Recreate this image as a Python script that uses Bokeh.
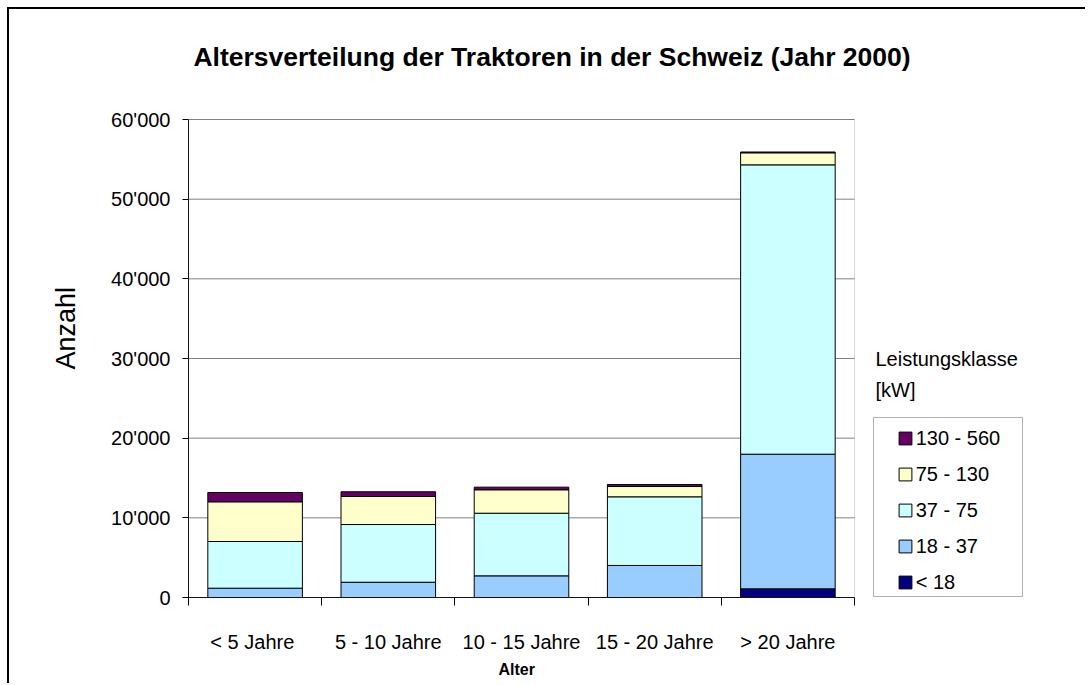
import math
from bokeh.plotting import figure
from bokeh.models import (ColumnDataSource, FixedTicker, Label, Legend, LegendItem,
                          BoxAnnotation, Range1d, Title)
from bokeh.embed import file_html
from bokeh.resources import INLINE

# ---- data ----
categories = ["<  5 Jahre", "5 - 10 Jahre", "10 - 15 Jahre", "15 - 20 Jahre", "> 20 Jahre"]
classes = ["< 18", "18 - 37", "37 - 75", "75 - 130", "130 - 560"]
kw_lt18 = [0, 0, 0, 0, 1090]
kw18_37 = [1170, 1920, 2720, 4020, 16900]
kw37_75 = [5860, 7240, 7860, 8620, 36320]
kw75_130 = [4980, 3520, 2940, 1290, 1510]
kw130_560 = [1170, 590, 330, 250, 100]
colors = ["#000080", "#99CCFF", "#CCFFFF", "#FFFFCC", "#660066"]
y_ticks = [0, 10000, 20000, 30000, 40000, 50000, 60000]

FONT = "Liberation Sans"

# ---- layout (pixels) ----
W, H = 1078, 676            # canvas (placed at page 9,9 by the css border/margin)
ORG = 9
FR_L, FR_B = 188 - ORG, 597 - ORG   # frame left / bottom on canvas
PLOT_W, PLOT_H = 666, 478           # drawn plot area (categories / 0..60000)
frame_w = W - FR_L
frame_h = FR_B

series = [kw_lt18, kw18_37, kw37_75, kw75_130, kw130_560]
keys = ["s%d" % i for i in range(len(classes))]
n = len(categories)
x_pos = [i + 0.5 for i in range(n)]
data = {"x": x_pos}
for k, s in zip(keys, series):
    data[k] = s
source = ColumnDataSource(data)

y_top = y_ticks[-1]
p = figure(width=W, height=H, output_backend="svg", toolbar_location=None, tools="",
           x_range=Range1d(0, n * frame_w / PLOT_W),
           y_range=Range1d(0, y_top * frame_h / PLOT_H),
           min_border_left=FR_L, min_border_right=0, min_border_top=0,
           min_border_bottom=H - FR_B)
p.styles = {"margin-left": "7px", "margin-top": "7px",
            "border-left": "2px solid black", "border-top": "2px solid black"}
p.background_fill_color = "white"
p.border_fill_color = "white"
p.outline_line_alpha = 0
p.xgrid.visible = False
p.ygrid.visible = False

# gridlines limited to the plot area
p.segment(x0=0, x1=n, y0=y_ticks[1:], y1=y_ticks[1:], line_color="#808080", line_width=1)

renderers = p.vbar_stack(keys, x="x", width=0.71, source=source,
                         fill_color=colors, line_color="black", line_width=1)

# plot area border
p.add_layout(BoxAnnotation(left=0, right=n, bottom=0, top=y_top, fill_alpha=0,
                           line_color="#808080", line_width=1))

# ---- axes ----
xa = p.xaxis[0]
xa.bounds = (0, n)
xa.ticker = FixedTicker(ticks=x_pos, minor_ticks=list(range(n + 1)))
xa.major_label_overrides = {x: c for x, c in zip(x_pos, categories)}
xa.major_tick_out = 0
xa.major_tick_in = 0
xa.minor_tick_out = 8
xa.minor_tick_in = 0
xa.minor_tick_line_color = "black"
xa.axis_line_color = "black"
xa.major_label_standoff = 25
xa.major_label_text_font = FONT
xa.major_label_text_font_size = "20px"
xa.major_label_text_color = "black"

ya = p.yaxis[0]
ya.bounds = (0, y_top)
ya.ticker = FixedTicker(ticks=y_ticks)
ya.major_label_overrides = {t: "{:,}".format(t).replace(",", "'") for t in y_ticks}
ya.major_tick_out = 6
ya.major_tick_in = 0
ya.minor_tick_out = 0
ya.minor_tick_in = 0
ya.major_tick_line_color = "black"
ya.axis_line_color = "black"
ya.major_label_standoff = 12
ya.major_label_text_font = FONT
ya.major_label_text_font_size = "20px"
ya.major_label_text_color = "black"

# axis titles (side panels)
p.add_layout(Title(text="Anzahl", align="left", offset=228, standoff=56,
                   vertical_align="bottom", text_font=FONT, text_font_size="27px",
                   text_font_style="normal", text_color="black"), "left")
p.add_layout(Title(text="Alter", align="left", offset=310, standoff=10,
                   vertical_align="top", text_font=FONT, text_font_size="16px",
                   text_font_style="bold", text_color="black"), "below")

# ---- legend ----
p.add_layout(BoxAnnotation(left=685, right=834, top=180, bottom=1,
                           left_units="screen", right_units="screen",
                           top_units="screen", bottom_units="screen",
                           fill_color="white", fill_alpha=1,
                           line_color="black", line_width=1))

items = [LegendItem(label=c, renderers=[r]) for c, r in zip(classes, renderers)][::-1]
legend = Legend(items=items, location=(684.7, -21), padding=24, spacing=12,
                glyph_width=16, glyph_height=16, label_height=24, label_standoff=3,
                label_text_font=FONT, label_text_font_size="20px",
                label_text_color="black",
                border_line_alpha=0, background_fill_alpha=0, margin=0)
p.add_layout(legend)

# ---- texts inside the frame ----
def lab(text, x, y, size, style="normal", align="left", baseline="alphabetic"):
    p.add_layout(Label(x=x, y=y, x_units="screen", y_units="screen", text=text,
                       text_font=FONT, text_font_size=size, text_font_style=style,
                       text_align=align, text_baseline=baseline, text_color="black"))

lab("Altersverteilung der Traktoren in der Schweiz (Jahr 2000)", 363.5, 541, "26.5px",
    style="bold", align="center")
lab("Leistungsklasse", 687, 239, "20px")
lab("[kW]", 687, 208, "20px")

open("out.html", "w").write(file_html(p, INLINE))
